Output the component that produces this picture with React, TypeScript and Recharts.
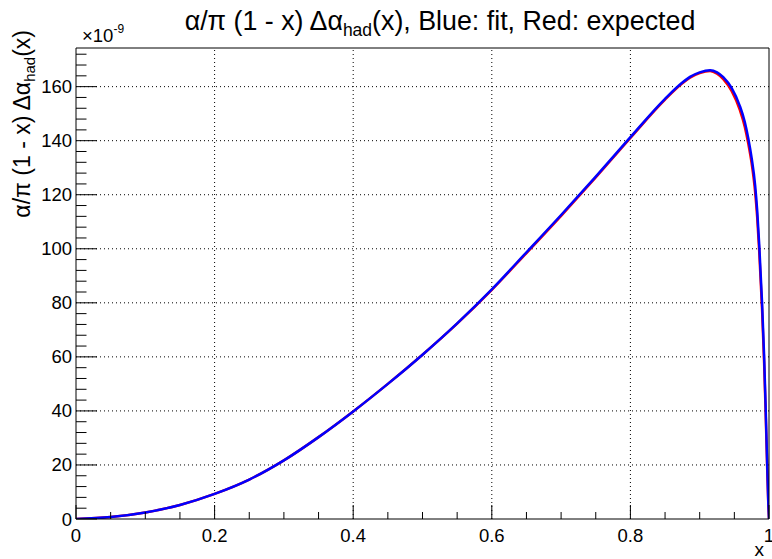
import React from "react";
import { LineChart, Line, XAxis, YAxis, ReferenceLine } from "recharts";

const xValues = [0, 0.05, 0.1, 0.15, 0.2, 0.25, 0.3, 0.35, 0.4, 0.45, 0.5, 0.55, 0.6, 0.65, 0.7, 0.75, 0.8, 0.85, 0.875, 0.886, 0.9, 0.915, 0.925, 0.934, 0.946, 0.958, 0.965, 0.97, 0.975, 0.98, 0.983, 0.986, 0.99, 0.993, 0.995, 0.997, 0.999, 1.0];
const fitValues = [0, 0.7, 2.4, 5.2, 9.3, 14.6, 21.7, 30.3, 39.8, 50, 60.8, 72.4, 85, 98.7, 112.5, 126.7, 141.3, 155.5, 161.5, 163.6, 165.3, 166.1, 165.3, 163.5, 159.5, 152.8, 147, 141, 133.5, 123.5, 114, 101, 80, 60, 43, 24, 6, 0];
const expectedValues = [0, 0.7, 2.4, 5.2, 9.3, 14.6, 21.7, 30.3, 39.8, 50, 60.8, 72.3, 84.8, 98.4, 112.2, 126.4, 141.0, 155.2, 161.2, 163.3, 165.0, 165.8, 164.8, 162.8, 158.4, 151.3, 145.2, 139, 131.5, 121, 111.5, 98.5, 77.5, 57.5, 41, 22.5, 5.5, 0];

const xTicks = [0, 0.05, 0.1, 0.15, 0.2, 0.25, 0.3, 0.35, 0.4, 0.45, 0.5, 0.55, 0.6, 0.65, 0.7, 0.75, 0.8, 0.85, 0.9, 0.95, 1];
const xMajor = [0, 0.2, 0.4, 0.6, 0.8, 1];
const xLabels = ["0", "0.2", "0.4", "0.6", "0.8", "1"];
const yTicks = [0, 4, 8, 12, 16, 20, 24, 28, 32, 36, 40, 44, 48, 52, 56, 60, 64, 68, 72, 76, 80, 84, 88, 92, 96, 100, 104, 108, 112, 116, 120, 124, 128, 132, 136, 140, 144, 148, 152, 156, 160, 164, 168, 172];
const yMajor = [0, 20, 40, 60, 80, 100, 120, 140, 160];
const yLabels = ["0", "20", "40", "60", "80", "100", "120", "140", "160"];
const yMax = 174.3;

const data = xValues.map((x, i) => ({ x, fit: fitValues[i], expected: expectedValues[i] }));

const FONT = "'Liberation Sans', Arial, Helvetica, sans-serif";

const findMajor = (arr: number[], v: number) => arr.findIndex((m) => Math.abs(m - v) < 1e-9);

const XTick = (props: any) => {
  const { x, y, payload } = props;
  const idx = findMajor(xMajor, payload.value);
  const major = idx >= 0;
  return (
    <g>
      <line x1={x} x2={x} y1={y} y2={y - (major ? 14 : 7)} stroke="#000" strokeWidth={1} />
      {major && (
        <text x={x} y={y + 22.5} textAnchor="middle" fontSize={18.5} fontFamily={FONT} fill="#000">
          {xLabels[idx]}
        </text>
      )}
    </g>
  );
};

const YTick = (props: any) => {
  const { x, y, payload } = props;
  const idx = findMajor(yMajor, payload.value);
  const major = idx >= 0;
  return (
    <g>
      <line x1={x} x2={x + (major ? 21 : 10.5)} y1={y} y2={y} stroke="#000" strokeWidth={1} />
      {major && (
        <text x={x - 4} y={y + 6.5} textAnchor="end" fontSize={18.5} fontFamily={FONT} fill="#000">
          {yLabels[idx]}
        </text>
      )}
    </g>
  );
};

export default function App() {
  return (
    <div style={{ position: "absolute", left: 0, top: 0, width: 772, height: 559, background: "#fff" }}>
      <LineChart width={772} height={559} data={data} margin={{ top: 0, right: 0, bottom: 0, left: 0 }}>
        <XAxis
          dataKey="x"
          type="number"
          domain={[0, 1]}
          ticks={xTicks}
          interval={0}
          tickSize={0}
          tickMargin={0}
          tickLine={false}
          height={40}
          axisLine={{ stroke: "#000", strokeWidth: 1 }}
          tick={<XTick />}
          allowDataOverflow
        />
        <XAxis xAxisId="top" orientation="top" type="number" domain={[0, 1]} height={48} tick={false} tickLine={false} axisLine={{ stroke: "#000", strokeWidth: 1 }} />
        <YAxis
          type="number"
          domain={[0, yMax]}
          ticks={yTicks}
          interval={0}
          tickSize={0}
          tickMargin={0}
          tickLine={false}
          width={76}
          axisLine={{ stroke: "#000", strokeWidth: 1 }}
          tick={<YTick />}
          allowDataOverflow
        />
        <YAxis yAxisId="right" orientation="right" type="number" domain={[0, yMax]} width={3} tick={false} tickLine={false} axisLine={{ stroke: "#000", strokeWidth: 1 }} />
        {xMajor.slice(1, -1).map((v) => (
          <ReferenceLine key={"gx" + v} x={v} stroke="#000" strokeWidth={1} strokeDasharray="1 3" />
        ))}
        {yMajor.slice(1).map((v) => (
          <ReferenceLine key={"gy" + v} y={v} stroke="#000" strokeWidth={1} strokeDasharray="1 3" />
        ))}
        <Line dataKey="expected" type="monotone" stroke="#ff0000" strokeWidth={2.5} dot={false} isAnimationActive={false} />
        <Line dataKey="fit" type="monotone" stroke="#0000ff" strokeWidth={2.5} dot={false} isAnimationActive={false} />
      </LineChart>
      <svg width={772} height={559} style={{ position: "absolute", left: 0, top: 0, pointerEvents: "none" }}>
        <text x={440} y={30} textAnchor="middle" fontSize={26.8} fontFamily={FONT} fill="#000">
          α/π (1 - x) Δα
          <tspan dy={6} fontSize={17.5}>had</tspan>
          <tspan dy={-6}>(x), Blue: fit, Red: expected</tspan>
        </text>
        <text transform="translate(30,30) rotate(-90)" textAnchor="end" fontSize={23} fontFamily={FONT} fill="#000">
          α/π (1 - x) Δα
          <tspan dy={5} fontSize={15}>had</tspan>
          <tspan dy={-5}>(x)</tspan>
        </text>
        <text x={82} y={41.5} fontSize={18.5} fontFamily={FONT} fill="#000">
          ×10
          <tspan dy={-9} fontSize={12}>-9</tspan>
        </text>
        <text x={764} y={556} textAnchor="end" fontSize={19} fontFamily={FONT} fill="#000">
          x
        </text>
      </svg>
    </div>
  );
}
